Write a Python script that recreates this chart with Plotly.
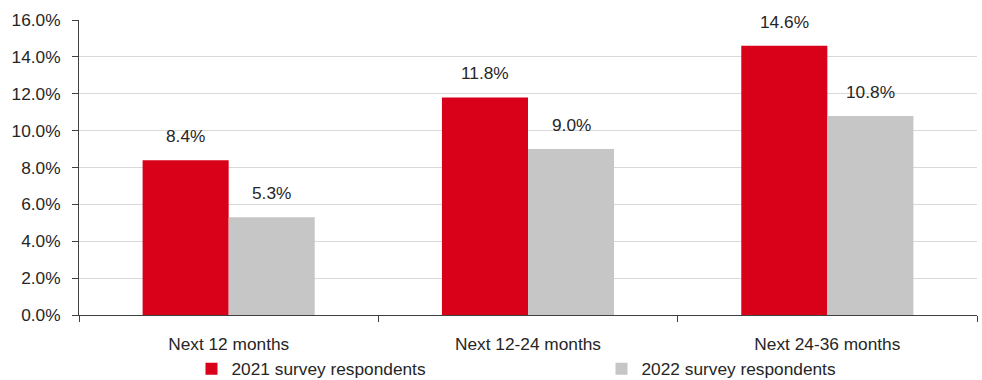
import plotly.graph_objects as go

# Expected annual increase by horizon, two survey waves
categories = ["Next 12 months", "Next 12-24 months", "Next 24-36 months"]
series_names = ["2021 survey respondents", "2022 survey respondents"]
values_2021 = [8.4, 11.8, 14.6]
values_2022 = [5.3, 9.0, 10.8]
y_ticks = [0, 2, 4, 6, 8, 10, 12, 14, 16]
y_tick_labels = [f"{v:.1f}%" for v in y_ticks]

colors = ["#d90019", "#c6c6c6"]
font_family = "Liberation Sans, Arial, sans-serif"
text_color = "#262626"
fs = 17.3

fig = go.Figure()
for name, vals, col in zip(series_names, [values_2021, values_2022], colors):
    fig.add_trace(go.Bar(
        x=categories, y=vals, name=name,
        marker=dict(color=col, line=dict(width=0)),
        hoverinfo="skip",
    ))

# Value labels above each bar
bar_px = 86
for vals, shift in [(values_2021, -bar_px / 2), (values_2022, bar_px / 2)]:
    for cat, v in zip(categories, vals):
        fig.add_annotation(
            x=cat, y=v, xref="x", yref="y",
            text=f"{v:.1f}%", showarrow=False,
            xshift=shift, yshift=12, yanchor="bottom",
            font=dict(size=fs, color=text_color, family=font_family),
        )

fig.update_layout(
    width=982, height=380,
    margin=dict(l=79, r=5, t=20, b=65, autoexpand=False),
    paper_bgcolor="white", plot_bgcolor="white",
    barmode="group", bargap=0.425, bargroupgap=0,
    font=dict(family=font_family, size=fs, color=text_color),
    showlegend=True,
    legend=dict(
        orientation="h", xref="container", yref="container",
        x=0.195, xanchor="left", y=0.029, yanchor="middle",
        entrywidth=365, font=dict(size=fs, color=text_color),
        bgcolor="rgba(0,0,0,0)", itemclick=False, itemdoubleclick=False,
    ),
    xaxis=dict(
        type="category", showline=True, linecolor="#404040", linewidth=1,
        ticks="outside", tickson="boundaries", ticklen=6, tickcolor="#404040",
        showgrid=False, ticklabelstandoff=13,
        tickfont=dict(size=fs, color=text_color),
    ),
    yaxis=dict(
        range=[0, 16], tickvals=y_ticks, ticktext=y_tick_labels,
        showline=True, linecolor="#404040", linewidth=1,
        ticks="outside", ticklen=6, tickcolor="#404040",
        showgrid=True, gridcolor="#d9d9d9", gridwidth=1,
        zeroline=False, ticklabelstandoff=8,
        tickfont=dict(size=fs, color=text_color),
    ),
)

fig.write_html("out.html")
